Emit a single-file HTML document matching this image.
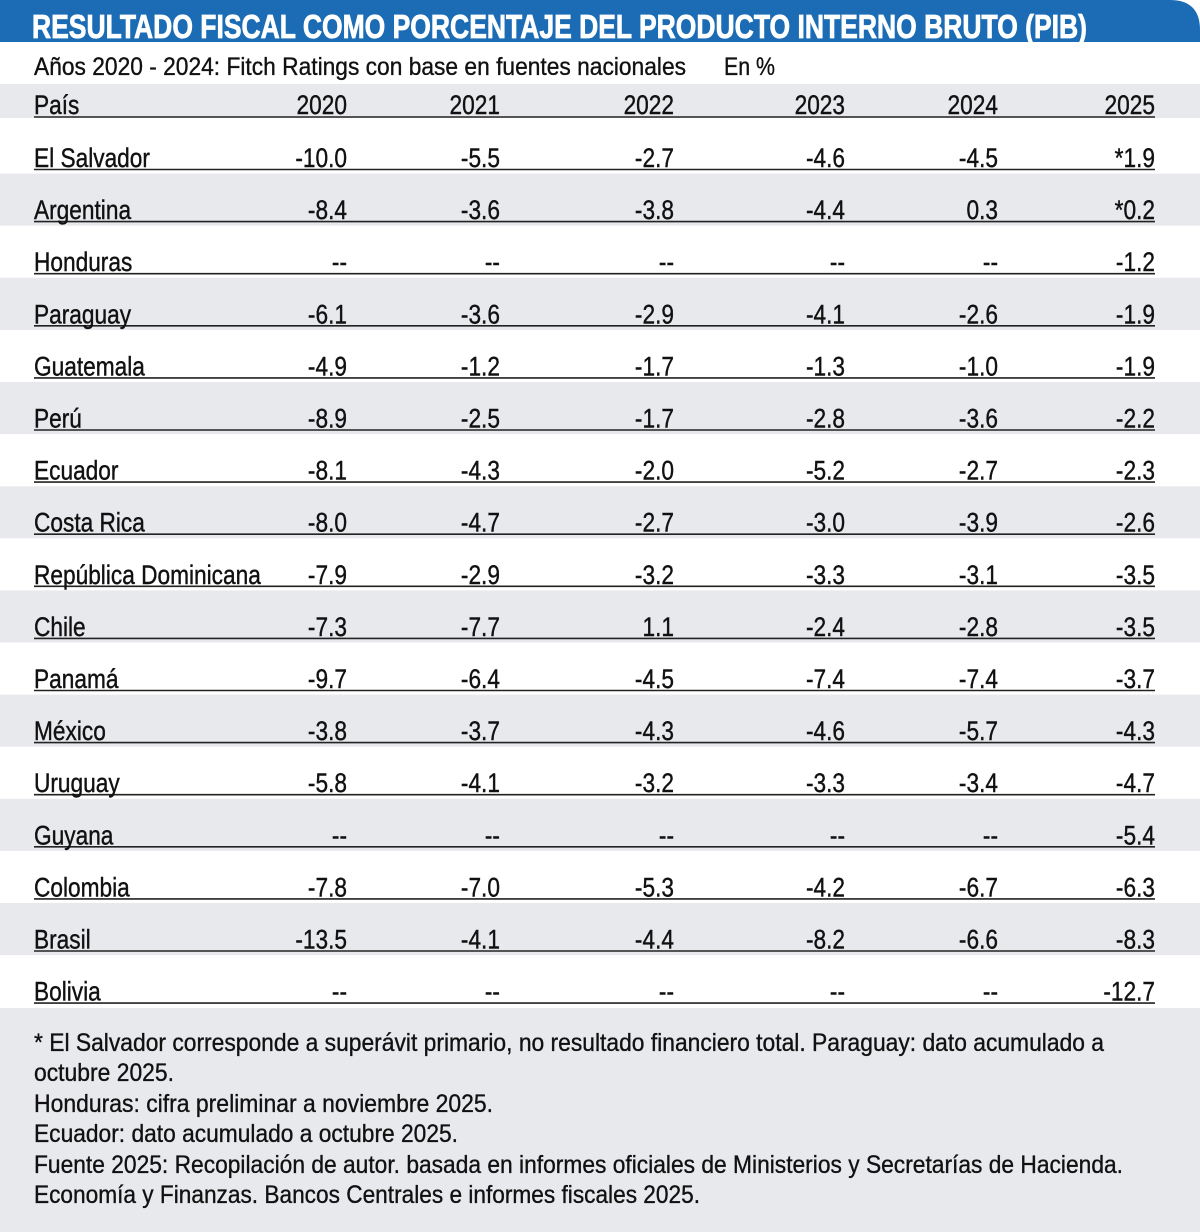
<!DOCTYPE html>
<html><head><meta charset="utf-8"><style>
html,body{margin:0;padding:0;background:#fff;}
svg{display:block;font-family:"Liberation Sans",Arial,sans-serif;}
</style></head><body>
<svg width="1200" height="1232" viewBox="0 0 1200 1232" xmlns="http://www.w3.org/2000/svg">
<rect width="1200" height="1232" fill="#fff"/>
<path d="M0 0 H1170 Q1200 0 1200 30 V42 H0 Z" fill="#1b6cb5"/>
<text x="32" y="38" font-size="33" font-weight="bold" fill="#fff" stroke="#fff" stroke-width="0.8" textLength="1055" lengthAdjust="spacingAndGlyphs">RESULTADO FISCAL COMO PORCENTAJE DEL PRODUCTO INTERNO BRUTO (PIB)</text>
<g stroke="#111" stroke-width="0.35">
<text x="34" y="75" font-size="25" fill="#111" textLength="652" lengthAdjust="spacingAndGlyphs">Años 2020 - 2024: Fitch Ratings con base en fuentes nacionales</text>
<text x="724" y="75" font-size="25" fill="#111" textLength="51" lengthAdjust="spacingAndGlyphs">En %</text>
</g>
<rect x="0" y="84" width="1200" height="34" fill="#e8e9ed"/>
<g fill="#e8e9ed">
<rect x="0" y="173.6" width="1200" height="52.1"/>
<rect x="0" y="277.8" width="1200" height="52.1"/>
<rect x="0" y="382" width="1200" height="52.1"/>
<rect x="0" y="486.2" width="1200" height="52.1"/>
<rect x="0" y="590.4" width="1200" height="52.1"/>
<rect x="0" y="694.6" width="1200" height="52.1"/>
<rect x="0" y="798.8" width="1200" height="52.1"/>
<rect x="0" y="903" width="1200" height="52.1"/>
<rect x="0" y="1008" width="1200" height="224"/>
</g>
<g stroke="#222" stroke-width="1.6">
<line x1="34" x2="1155" y1="117" y2="117"/>
<line x1="34" x2="1155" y1="169.5" y2="169.5"/>
<line x1="34" x2="1155" y1="221.6" y2="221.6"/>
<line x1="34" x2="1155" y1="273.7" y2="273.7"/>
<line x1="34" x2="1155" y1="325.8" y2="325.8"/>
<line x1="34" x2="1155" y1="377.9" y2="377.9"/>
<line x1="34" x2="1155" y1="430" y2="430"/>
<line x1="34" x2="1155" y1="482.1" y2="482.1"/>
<line x1="34" x2="1155" y1="534.2" y2="534.2"/>
<line x1="34" x2="1155" y1="586.3" y2="586.3"/>
<line x1="34" x2="1155" y1="638.4" y2="638.4"/>
<line x1="34" x2="1155" y1="690.5" y2="690.5"/>
<line x1="34" x2="1155" y1="742.6" y2="742.6"/>
<line x1="34" x2="1155" y1="794.7" y2="794.7"/>
<line x1="34" x2="1155" y1="846.8" y2="846.8"/>
<line x1="34" x2="1155" y1="898.9" y2="898.9"/>
<line x1="34" x2="1155" y1="951" y2="951"/>
<line x1="34" x2="1155" y1="1003.1" y2="1003.1"/>
</g>
<g transform="scale(0.84 1)" font-size="27" fill="#111" stroke="#111" stroke-width="0.4">
<text x="40.5" y="114">País</text>
<g text-anchor="end">
<text x="413.1" y="114">2020</text><text x="595.2" y="114">2021</text><text x="802.4" y="114">2022</text><text x="1006" y="114">2023</text><text x="1188.1" y="114">2024</text><text x="1375" y="114">2025</text>
</g>
<g>
<text x="40.5" y="167">El Salvador</text>
<text x="40.5" y="219.1">Argentina</text>
<text x="40.5" y="271.2">Honduras</text>
<text x="40.5" y="323.3">Paraguay</text>
<text x="40.5" y="375.4">Guatemala</text>
<text x="40.5" y="427.5">Perú</text>
<text x="40.5" y="479.6">Ecuador</text>
<text x="40.5" y="531.7">Costa Rica</text>
<text x="40.5" y="583.8">República Dominicana</text>
<text x="40.5" y="635.9">Chile</text>
<text x="40.5" y="688">Panamá</text>
<text x="40.5" y="740.1">México</text>
<text x="40.5" y="792.2">Uruguay</text>
<text x="40.5" y="844.3">Guyana</text>
<text x="40.5" y="896.4">Colombia</text>
<text x="40.5" y="948.5">Brasil</text>
<text x="40.5" y="1000.6">Bolivia</text>
</g>
<g text-anchor="end">
<text y="167"><tspan x="413.1">-10.0</tspan><tspan x="595.2">-5.5</tspan><tspan x="802.4">-2.7</tspan><tspan x="1006">-4.6</tspan><tspan x="1188.1">-4.5</tspan><tspan x="1375">*1.9</tspan></text>
<text y="219.1"><tspan x="413.1">-8.4</tspan><tspan x="595.2">-3.6</tspan><tspan x="802.4">-3.8</tspan><tspan x="1006">-4.4</tspan><tspan x="1188.1">0.3</tspan><tspan x="1375">*0.2</tspan></text>
<text y="271.2"><tspan x="413.1">--</tspan><tspan x="595.2">--</tspan><tspan x="802.4">--</tspan><tspan x="1006">--</tspan><tspan x="1188.1">--</tspan><tspan x="1375">-1.2</tspan></text>
<text y="323.3"><tspan x="413.1">-6.1</tspan><tspan x="595.2">-3.6</tspan><tspan x="802.4">-2.9</tspan><tspan x="1006">-4.1</tspan><tspan x="1188.1">-2.6</tspan><tspan x="1375">-1.9</tspan></text>
<text y="375.4"><tspan x="413.1">-4.9</tspan><tspan x="595.2">-1.2</tspan><tspan x="802.4">-1.7</tspan><tspan x="1006">-1.3</tspan><tspan x="1188.1">-1.0</tspan><tspan x="1375">-1.9</tspan></text>
<text y="427.5"><tspan x="413.1">-8.9</tspan><tspan x="595.2">-2.5</tspan><tspan x="802.4">-1.7</tspan><tspan x="1006">-2.8</tspan><tspan x="1188.1">-3.6</tspan><tspan x="1375">-2.2</tspan></text>
<text y="479.6"><tspan x="413.1">-8.1</tspan><tspan x="595.2">-4.3</tspan><tspan x="802.4">-2.0</tspan><tspan x="1006">-5.2</tspan><tspan x="1188.1">-2.7</tspan><tspan x="1375">-2.3</tspan></text>
<text y="531.7"><tspan x="413.1">-8.0</tspan><tspan x="595.2">-4.7</tspan><tspan x="802.4">-2.7</tspan><tspan x="1006">-3.0</tspan><tspan x="1188.1">-3.9</tspan><tspan x="1375">-2.6</tspan></text>
<text y="583.8"><tspan x="413.1">-7.9</tspan><tspan x="595.2">-2.9</tspan><tspan x="802.4">-3.2</tspan><tspan x="1006">-3.3</tspan><tspan x="1188.1">-3.1</tspan><tspan x="1375">-3.5</tspan></text>
<text y="635.9"><tspan x="413.1">-7.3</tspan><tspan x="595.2">-7.7</tspan><tspan x="802.4">1.1</tspan><tspan x="1006">-2.4</tspan><tspan x="1188.1">-2.8</tspan><tspan x="1375">-3.5</tspan></text>
<text y="688"><tspan x="413.1">-9.7</tspan><tspan x="595.2">-6.4</tspan><tspan x="802.4">-4.5</tspan><tspan x="1006">-7.4</tspan><tspan x="1188.1">-7.4</tspan><tspan x="1375">-3.7</tspan></text>
<text y="740.1"><tspan x="413.1">-3.8</tspan><tspan x="595.2">-3.7</tspan><tspan x="802.4">-4.3</tspan><tspan x="1006">-4.6</tspan><tspan x="1188.1">-5.7</tspan><tspan x="1375">-4.3</tspan></text>
<text y="792.2"><tspan x="413.1">-5.8</tspan><tspan x="595.2">-4.1</tspan><tspan x="802.4">-3.2</tspan><tspan x="1006">-3.3</tspan><tspan x="1188.1">-3.4</tspan><tspan x="1375">-4.7</tspan></text>
<text y="844.3"><tspan x="413.1">--</tspan><tspan x="595.2">--</tspan><tspan x="802.4">--</tspan><tspan x="1006">--</tspan><tspan x="1188.1">--</tspan><tspan x="1375">-5.4</tspan></text>
<text y="896.4"><tspan x="413.1">-7.8</tspan><tspan x="595.2">-7.0</tspan><tspan x="802.4">-5.3</tspan><tspan x="1006">-4.2</tspan><tspan x="1188.1">-6.7</tspan><tspan x="1375">-6.3</tspan></text>
<text y="948.5"><tspan x="413.1">-13.5</tspan><tspan x="595.2">-4.1</tspan><tspan x="802.4">-4.4</tspan><tspan x="1006">-8.2</tspan><tspan x="1188.1">-6.6</tspan><tspan x="1375">-8.3</tspan></text>
<text y="1000.6"><tspan x="413.1">--</tspan><tspan x="595.2">--</tspan><tspan x="802.4">--</tspan><tspan x="1006">--</tspan><tspan x="1188.1">--</tspan><tspan x="1375">-12.7</tspan></text>
</g>
</g>
<g font-size="25" fill="#111" stroke="#111" stroke-width="0.35">
<text x="34" y="1051" textLength="1070" lengthAdjust="spacingAndGlyphs">* El Salvador corresponde a superávit primario, no resultado financiero total. Paraguay: dato acumulado a</text>
<text x="34" y="1081" textLength="140" lengthAdjust="spacingAndGlyphs">octubre 2025.</text>
<text x="34" y="1112" textLength="459" lengthAdjust="spacingAndGlyphs">Honduras: cifra preliminar a noviembre 2025.</text>
<text x="34" y="1142" textLength="424" lengthAdjust="spacingAndGlyphs">Ecuador: dato acumulado a octubre 2025.</text>
<text x="34" y="1173" textLength="1089" lengthAdjust="spacingAndGlyphs">Fuente 2025: Recopilación de autor. basada en informes oficiales de Ministerios y Secretarías de Hacienda.</text>
<text x="34" y="1203" textLength="666" lengthAdjust="spacingAndGlyphs">Economía y Finanzas. Bancos Centrales e informes fiscales 2025.</text>
</g>
</svg>
</body></html>
